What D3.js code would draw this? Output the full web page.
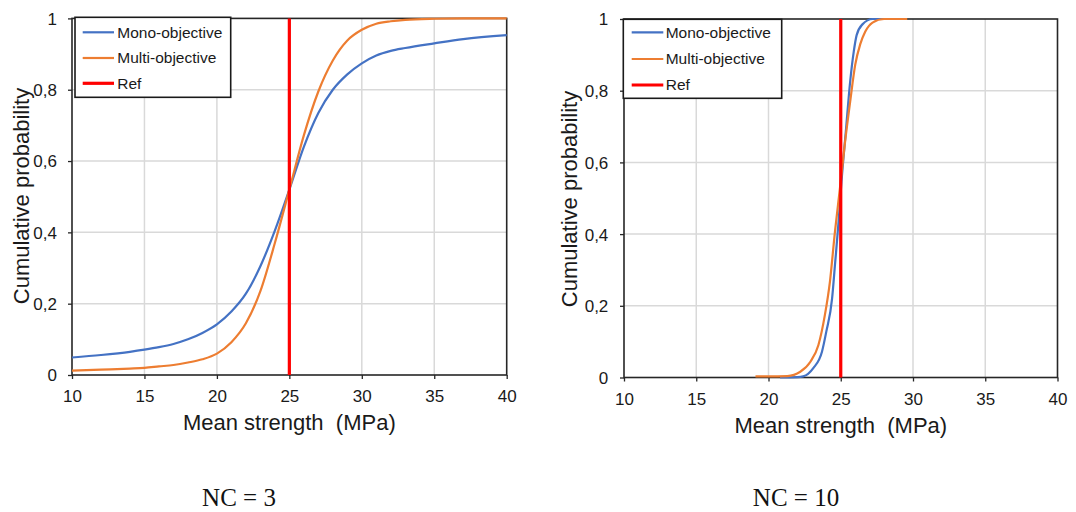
<!DOCTYPE html>
<html>
<head>
<meta charset="utf-8">
<script src="https://cdn.jsdelivr.net/npm/d3@7/dist/d3.min.js"></script>
<style>
  html, body { margin: 0; padding: 0; background: #ffffff; }
  svg { display: block; }
</style>
</head>
<body>
<svg id="chart" width="1076" height="512"></svg>
<script>
// ---------- data ----------
const xTicks = [10, 15, 20, 25, 30, 35, 40];
const yTicks = [0, 0.2, 0.4, 0.6, 0.8, 1];
const yTickLabels = ["0", "0,2", "0,4", "0,6", "0,8", "1"];
const seriesNames = ["Mono-objective", "Multi-objective", "Ref"];
const refStrength = 25;
const captions = ["NC = 3", "NC = 10"];
const xTitle = "Mean strength  (MPa)";
const yTitle = "Cumulative probability";

// NC = 3
const nc3Strength = [10, 12, 14, 15, 16, 17, 18, 19, 20, 21, 22, 23, 24, 25, 26, 27, 28, 29, 30, 31, 32, 33, 35, 37, 40];
const nc3Mono  = [0.049, 0.056, 0.065, 0.071, 0.078, 0.087, 0.100, 0.118, 0.142, 0.178, 0.228, 0.305, 0.405, 0.520, 0.640, 0.735, 0.800, 0.843, 0.874, 0.896, 0.909, 0.917, 0.930, 0.942, 0.953];
const nc3Multi = [0.012, 0.015, 0.018, 0.020, 0.024, 0.028, 0.035, 0.044, 0.060, 0.092, 0.145, 0.235, 0.370, 0.520, 0.672, 0.795, 0.882, 0.938, 0.968, 0.985, 0.992, 0.996, 0.999, 1.000, 1.000];

// NC = 10
const nc10MonoStrength  = [20.8, 22.0, 22.4, 23.1, 23.7, 24.0, 24.4, 24.6, 24.85, 25.05, 25.35, 25.65, 25.9, 26.1, 26.5, 27.2, 28.0];
const nc10Mono          = [0.000, 0.001, 0.003, 0.026, 0.072, 0.128, 0.220, 0.314, 0.435, 0.546, 0.686, 0.825, 0.909, 0.955, 0.985, 1.000, 1.000];
const nc10MultiStrength = [19.1, 20.0, 21.3, 22.2, 22.9, 23.45, 23.9, 24.25, 24.6, 24.95, 25.3, 25.65, 26.0, 26.35, 26.7, 27.2, 28.0, 29.6];
const nc10Multi         = [0.003, 0.003, 0.004, 0.016, 0.044, 0.090, 0.174, 0.267, 0.407, 0.530, 0.658, 0.769, 0.872, 0.930, 0.965, 0.990, 1.000, 1.000];

// ---------- drawing ----------
const colors = { mono: "#4472C4", multi: "#ED7D31", ref: "#FF0000" };
const FONT = "Liberation Sans, Arial, sans-serif";
const svg = d3.select("#chart");

function drawPanel(cfg) {
  const g = svg.append("g");
  const x = d3.scaleLinear().domain([10, 40]).range([cfg.left, cfg.right]);
  const y = d3.scaleLinear().domain([0, 1]).range([cfg.bottom, cfg.top]);

  // grid
  g.append("g").selectAll("line").data(xTicks.slice(1, -1)).join("line")
    .attr("x1", d => x(d)).attr("x2", d => x(d))
    .attr("y1", y(0)).attr("y2", y(1))
    .attr("stroke", "#d9d9d9").attr("stroke-width", 1.5);
  g.append("g").selectAll("line").data(yTicks.slice(1, -1)).join("line")
    .attr("x1", x(10)).attr("x2", x(40))
    .attr("y1", d => y(d)).attr("y2", d => y(d))
    .attr("stroke", "#d9d9d9").attr("stroke-width", 1.5);

  // axes
  const xAxis = d3.axisBottom(x).tickValues(xTicks).tickSize(4).tickFormat(d3.format("d"));
  const gx = g.append("g").attr("transform", `translate(0,${cfg.bottom})`).call(xAxis);
  gx.select(".domain").remove();
  gx.selectAll(".tick line").attr("stroke", "#262626").attr("stroke-width", 1.3);
  gx.selectAll(".tick text").attr("font-family", FONT)
    .attr("font-size", 17).attr("fill", "#1a1a1a").attr("y", cfg.xLabelDy).attr("dy", 0);

  const yAxis = d3.axisLeft(y).tickValues(yTicks).tickSize(4).tickFormat((d, i) => yTickLabels[i]);
  const gy = g.append("g").attr("transform", `translate(${cfg.left},0)`).call(yAxis);
  gy.select(".domain").remove();
  gy.selectAll(".tick line").attr("stroke", "#262626").attr("stroke-width", 1.3);
  gy.selectAll(".tick text").attr("font-family", FONT)
    .attr("font-size", 17).attr("fill", "#1a1a1a").attr("x", -cfg.yLabelGap).attr("dy", "0.35em");

  // frame
  g.append("rect").attr("x", x(10)).attr("y", y(1))
    .attr("width", x(40) - x(10)).attr("height", y(0) - y(1))
    .attr("fill", "none").attr("stroke", "#262626").attr("stroke-width", 1.6);

  // curves
  const line = d3.line().x(d => x(d[0])).y(d => y(d[1])).curve(d3.curveMonotoneX);
  const monoPts = cfg.monoX.map((v, i) => [v, cfg.monoY[i]]);
  const multiPts = cfg.multiX.map((v, i) => [v, cfg.multiY[i]]);
  g.append("path").datum(monoPts).attr("d", line)
    .attr("fill", "none").attr("stroke", colors.mono).attr("stroke-width", 2.2);
  g.append("path").datum(multiPts).attr("d", line)
    .attr("fill", "none").attr("stroke", colors.multi).attr("stroke-width", 2.2);

  // reference line
  g.append("line").attr("x1", x(refStrength)).attr("x2", x(refStrength))
    .attr("y1", y(0)).attr("y2", y(1))
    .attr("stroke", colors.ref).attr("stroke-width", 3.2);

  // legend
  const lg = g.append("g");
  lg.append("rect").attr("x", cfg.leg.x).attr("y", cfg.leg.y)
    .attr("width", cfg.leg.w).attr("height", cfg.leg.h)
    .attr("fill", "#ffffff").attr("stroke", "#1a1a1a").attr("stroke-width", 1.6);
  const legColors = [colors.mono, colors.multi, colors.ref];
  const legWidths = [2.2, 2.2, 3.2];
  seriesNames.forEach((name, i) => {
    const cy = cfg.leg.rows[i];
    lg.append("line").attr("x1", cfg.leg.lx1).attr("x2", cfg.leg.lx2)
      .attr("y1", cy).attr("y2", cy)
      .attr("stroke", legColors[i]).attr("stroke-width", legWidths[i]);
    lg.append("text").attr("x", cfg.leg.tx).attr("y", cy).attr("dy", "0.35em")
      .attr("font-family", FONT)
      .attr("font-size", 15.5).attr("fill", "#1a1a1a").text(name);
  });

  // titles
  g.append("text").attr("x", (cfg.left + cfg.right) / 2).attr("y", cfg.xTitleY)
    .attr("text-anchor", "middle").attr("xml:space", "preserve")
    .style("white-space", "pre")
    .attr("font-family", FONT)
    .attr("font-size", 22).attr("fill", "#1a1a1a").text(xTitle);
  g.append("text")
    .attr("transform", `translate(${cfg.yTitleX},${cfg.yTitleY}) rotate(-90)`)
    .attr("text-anchor", "middle").attr("dy", "0.35em")
    .attr("font-family", FONT)
    .attr("font-size", 22).attr("fill", "#1a1a1a").text(yTitle);

  // caption
  g.append("text").attr("x", cfg.capX).attr("y", cfg.capY)
    .attr("text-anchor", "middle")
    .attr("font-family", "Liberation Serif, Times New Roman, serif")
    .attr("font-size", 25).attr("fill", "#111").text(cfg.caption);
}

drawPanel({
  left: 72, right: 506.7, top: 18.4, bottom: 375,
  monoX: nc3Strength, monoY: nc3Mono, multiX: nc3Strength, multiY: nc3Multi,
  xLabelDy: 27, yLabelGap: 15,
  leg: { x: 75, y: 17.3, w: 155.7, h: 80, lx1: 82.7, lx2: 114, tx: 117.3, rows: [32.3, 58, 83.3] },
  xTitleY: 430, yTitleX: 21, yTitleY: 196,
  capX: 239, capY: 506, caption: captions[0]
});

drawPanel({
  left: 624, right: 1057.5, top: 19, bottom: 377.5,
  monoX: nc10MonoStrength, monoY: nc10Mono, multiX: nc10MultiStrength, multiY: nc10Multi,
  xLabelDy: 27, yLabelGap: 15.7,
  leg: { x: 623.3, y: 19.3, w: 158.4, h: 79, lx1: 631.7, lx2: 663.3, tx: 665.7, rows: [32.3, 59, 85] },
  xTitleY: 433, yTitleX: 569, yTitleY: 199,
  capX: 796, capY: 506, caption: captions[1]
});
</script>
</body>
</html>
